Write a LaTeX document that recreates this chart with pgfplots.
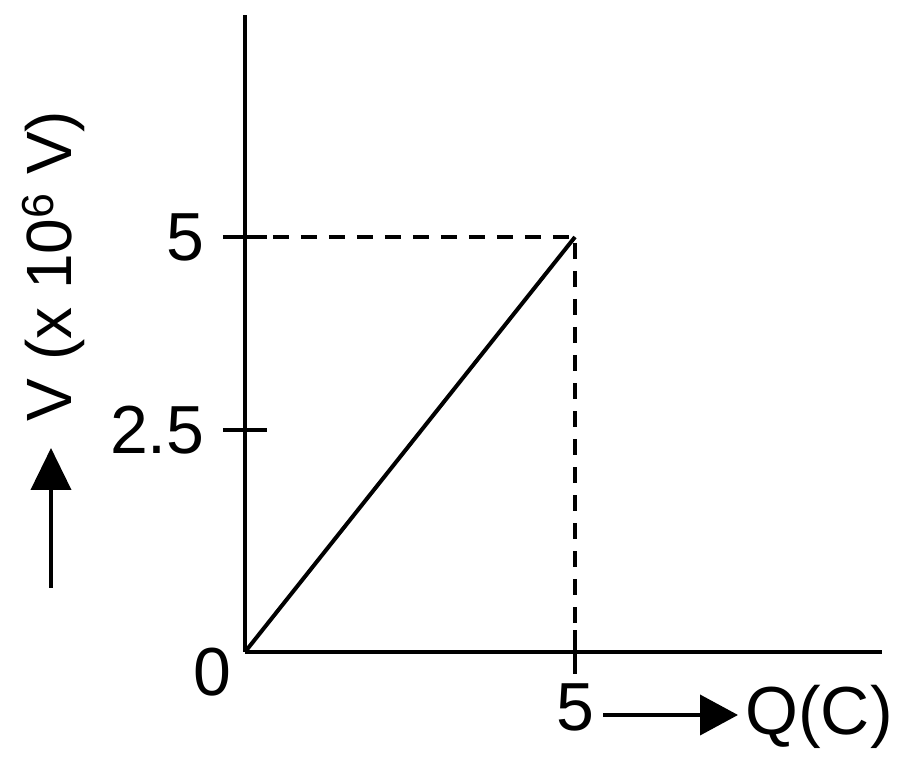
\documentclass[border=0pt]{standalone}
\usepackage{fontspec}
\setmainfont{Liberation Sans}
\usepackage{pgfplots}
\pgfplotsset{compat=1.18}
\usetikzlibrary{arrows.meta}

\begin{document}
\begin{tikzpicture}[font=\fontsize{34}{40}\selectfont]
\begin{axis}[
    at={(0,0)}, anchor=south west,
    x=33pt, y=41.5pt,
    xmin=0, xmax=9.65, ymin=0, ymax=7.67,
    axis lines=left,
    axis line style={-, line width=2.2pt},
    xtick={5}, xticklabels={5},
    % the 2.5 mark sits a little high in the original drawing
    ytick={2.67,5}, yticklabels={2.5,5},
    tick align=center,
    major tick length=22pt,
    tick style={line width=2pt, black},
    xticklabel style={anchor=north, inner sep=0pt, yshift=-4.5pt},
    yticklabel style={anchor=east, inner sep=0pt, xshift=-9pt},
    clip=false,
]
  % dashed guides to (5,5)
  \addplot[black, line width=2pt, dash pattern=on 8pt off 6pt] coordinates {(0,5) (5,5) (5,0)};
  % V against Q
  \addplot[black, line width=2pt] coordinates {(0,0) (5,5)};
\end{axis}
% origin label
\node[anchor=north east, inner sep=0pt] at (-6.5pt,2pt) {0};
% y label with arrow
\draw[line width=2pt, -{Triangle[length=21pt,width=20pt]}] (-97pt,32pt) -- (-97pt,102pt);
\node[rotate=90, anchor=base, inner sep=0pt, font=\fontsize{32}{38}\selectfont] at (-86.5pt,193pt) {V (x 10\textsuperscript{6} V)};
% x label with arrow
\draw[line width=2pt, -{Triangle[length=19pt,width=20pt]}] (179pt,-31.5pt) -- (246.5pt,-31.5pt);
\node[anchor=base west, inner sep=0pt] at (250pt,-41.5pt) {Q(C)};
\pgfresetboundingbox
\useasboundingbox (-122.5pt,-56.5pt) rectangle (327.5pt,326pt);
\end{tikzpicture}
\end{document}
